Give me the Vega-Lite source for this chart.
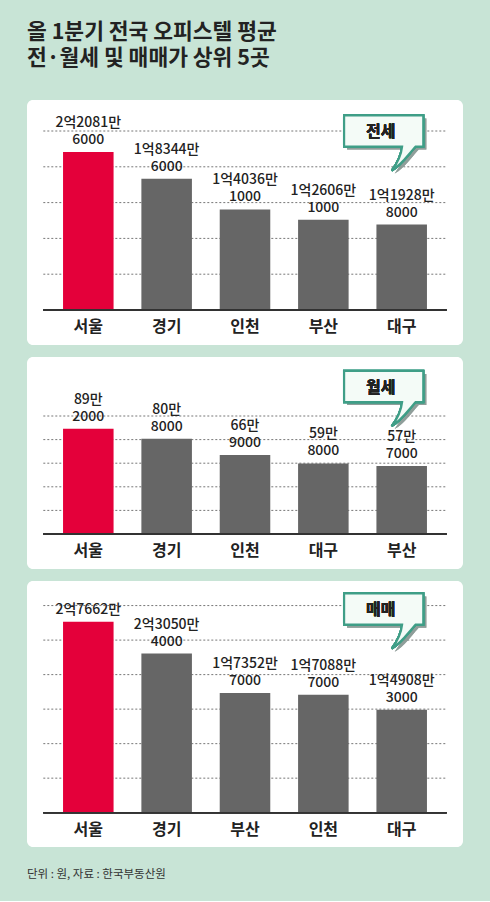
{
  "$schema": "https://vega.github.io/schema/vega-lite/v6.json",
  "background": "#c8e4d6",
  "padding": {"left": 27, "right": 27, "top": 21, "bottom": 20},
  "title": {
    "text": ["올 1분기 전국 오피스텔 평균", "전·월세 및 매매가 상위 5곳"],
    "anchor": "start",
    "font": "Noto Sans CJK KR",
    "fontSize": 21.5,
    "fontWeight": "bold",
    "color": "#222222",
    "lineHeight": 26,
    "baseline": "top",
    "offset": 31
  },
  "spacing": 12,
  "vconcat": [
    {
      "width": 436,
      "height": 245,
      "view": {"fill": "white", "stroke": null, "cornerRadius": 6},
      "data": {
        "values": [
          {"region": "서울", "value": 220816000, "line1": "2억2081만", "line2": "6000"},
          {"region": "경기", "value": 183446000, "line1": "1억8344만", "line2": "6000"},
          {"region": "인천", "value": 140361000, "line1": "1억4036만", "line2": "1000"},
          {"region": "부산", "value": 126061000, "line1": "1억2606만", "line2": "1000"},
          {"region": "대구", "value": 119288000, "line1": "1억1928만", "line2": "8000"}
        ]
      },
      "encoding": {
        "x": {
          "field": "region",
          "type": "nominal",
          "scale": {"domain": ["서울", "경기", "인천", "부산", "대구"], "paddingInner": 0.355, "paddingOuter": 0.46},
          "axis": null
        }
      },
      "layer": [
        {
          "data": {"values": [{"v": 50000000}, {"v": 100000000}, {"v": 150000000}, {"v": 200000000}, {"v": 250000000}]},
          "mark": {"type": "rule", "color": "#777777", "strokeDash": [2, 2], "strokeWidth": 1, "xOffset": -45, "x2Offset": 45},
          "encoding": {
            "x": {"datum": "서울", "type": "nominal"},
            "x2": {"datum": "대구"},
            "y": {"field": "v", "type": "quantitative", "scale": {"domain": [-48900000, 293300000], "nice": false, "zero": false}, "axis": null}
          }
        },
        {
          "mark": {"type": "bar"},
          "encoding": {
            "y": {"field": "value", "type": "quantitative", "scale": {"domain": [-48900000, 293300000], "nice": false, "zero": false}, "axis": null},
            "color": {"condition": {"test": "datum.region === '서울'", "value": "#e4003a"}, "value": "#666666"}
          }
        },
        {
          "mark": {"type": "rule", "color": "#333333", "strokeWidth": 1.5, "xOffset": -45, "x2Offset": 45},
          "encoding": {
            "x": {"datum": "서울", "type": "nominal"},
            "x2": {"datum": "대구"},
            "y": {"datum": 0, "type": "quantitative"}
          }
        },
        {
          "mark": {"type": "text", "baseline": "bottom", "dy": -22, "fontSize": 14, "fontWeight": 500, "font": "Noto Sans CJK KR", "color": "#222222"},
          "encoding": {
            "y": {"field": "value", "type": "quantitative"},
            "text": {"field": "line1"}
          }
        },
        {
          "mark": {"type": "text", "baseline": "bottom", "dy": -5, "fontSize": 14, "fontWeight": 500, "font": "Noto Sans CJK KR", "color": "#222222"},
          "encoding": {
            "y": {"field": "value", "type": "quantitative"},
            "text": {"field": "line2"}
          }
        },
        {
          "mark": {"type": "text", "baseline": "middle", "dy": 17, "fontSize": 16, "fontWeight": "bold", "font": "Noto Sans CJK KR", "color": "#222222"},
          "encoding": {
            "y": {"datum": 0, "type": "quantitative"},
            "text": {"field": "region"}
          }
        },
        {
          "mark": {"type": "point", "shape": "M-0.99,-0.39 L0.99,-0.39 L0.99,0.39 L0.8,0.39 C0.62,0.58 0.45,0.85 0.2,0.99 C0.36,0.78 0.44,0.58 0.46,0.39 L-0.99,0.39 Z", "size": 6400, "filled": true, "fill": "#8a9a94", "opacity": 0.45, "strokeWidth": 0, "xOffset": -15, "yOffset": 3},
          "encoding": {
            "x": {"datum": "대구", "type": "nominal"},
            "y": {"datum": 250000000, "type": "quantitative"}
          }
        },
        {
          "mark": {"type": "point", "shape": "M-0.99,-0.39 L0.99,-0.39 L0.99,0.39 L0.8,0.39 C0.62,0.58 0.45,0.85 0.2,0.99 C0.36,0.78 0.44,0.58 0.46,0.39 L-0.99,0.39 Z", "size": 6400, "filled": true, "fill": "#f4fbf7", "stroke": "#3f9e87", "strokeWidth": 2.2, "opacity": 1, "xOffset": -18},
          "encoding": {
            "x": {"datum": "대구", "type": "nominal"},
            "y": {"datum": 250000000, "type": "quantitative"}
          }
        },
        {
          "mark": {"type": "text", "baseline": "middle", "fontSize": 16, "fontWeight": "bold", "font": "Noto Sans CJK KR", "color": "#222222", "xOffset": -21, "dy": 1},
          "encoding": {
            "x": {"datum": "대구", "type": "nominal"},
            "y": {"datum": 250000000, "type": "quantitative"},
            "text": {"value": "전세"}
          }
        }
      ]
    },
    {
      "width": 436,
      "height": 212,
      "view": {"fill": "white", "stroke": null, "cornerRadius": 6},
      "data": {
        "values": [
          {"region": "서울", "value": 892000, "line1": "89만", "line2": "2000"},
          {"region": "경기", "value": 808000, "line1": "80만", "line2": "8000"},
          {"region": "인천", "value": 669000, "line1": "66만", "line2": "9000"},
          {"region": "대구", "value": 598000, "line1": "59만", "line2": "8000"},
          {"region": "부산", "value": 577000, "line1": "57만", "line2": "7000"}
        ]
      },
      "encoding": {
        "x": {
          "field": "region",
          "type": "nominal",
          "scale": {"domain": ["서울", "경기", "인천", "대구", "부산"], "paddingInner": 0.355, "paddingOuter": 0.46},
          "axis": null
        }
      },
      "layer": [
        {
          "data": {"values": [{"v": 200000}, {"v": 400000}, {"v": 600000}, {"v": 800000}, {"v": 1000000}]},
          "mark": {"type": "rule", "color": "#777777", "strokeDash": [2, 2], "strokeWidth": 1, "xOffset": -45, "x2Offset": 45},
          "encoding": {
            "x": {"datum": "서울", "type": "nominal"},
            "x2": {"datum": "부산"},
            "y": {"field": "v", "type": "quantitative", "scale": {"domain": [-296600, 1500000], "nice": false, "zero": false}, "axis": null}
          }
        },
        {
          "mark": {"type": "bar"},
          "encoding": {
            "y": {"field": "value", "type": "quantitative", "scale": {"domain": [-296600, 1500000], "nice": false, "zero": false}, "axis": null},
            "color": {"condition": {"test": "datum.region === '서울'", "value": "#e4003a"}, "value": "#666666"}
          }
        },
        {
          "mark": {"type": "rule", "color": "#333333", "strokeWidth": 1.5, "xOffset": -45, "x2Offset": 45},
          "encoding": {
            "x": {"datum": "서울", "type": "nominal"},
            "x2": {"datum": "부산"},
            "y": {"datum": 0, "type": "quantitative"}
          }
        },
        {
          "mark": {"type": "text", "baseline": "bottom", "dy": -22, "fontSize": 14, "fontWeight": 500, "font": "Noto Sans CJK KR", "color": "#222222"},
          "encoding": {
            "y": {"field": "value", "type": "quantitative"},
            "text": {"field": "line1"}
          }
        },
        {
          "mark": {"type": "text", "baseline": "bottom", "dy": -5, "fontSize": 14, "fontWeight": 500, "font": "Noto Sans CJK KR", "color": "#222222"},
          "encoding": {
            "y": {"field": "value", "type": "quantitative"},
            "text": {"field": "line2"}
          }
        },
        {
          "mark": {"type": "text", "baseline": "middle", "dy": 17, "fontSize": 16, "fontWeight": "bold", "font": "Noto Sans CJK KR", "color": "#222222"},
          "encoding": {
            "y": {"datum": 0, "type": "quantitative"},
            "text": {"field": "region"}
          }
        },
        {
          "mark": {"type": "point", "shape": "M-0.99,-0.39 L0.99,-0.39 L0.99,0.39 L0.8,0.39 C0.62,0.58 0.45,0.85 0.2,0.99 C0.36,0.78 0.44,0.58 0.46,0.39 L-0.99,0.39 Z", "size": 6400, "filled": true, "fill": "#8a9a94", "opacity": 0.45, "strokeWidth": 0, "xOffset": -15, "yOffset": 3},
          "encoding": {
            "x": {"datum": "부산", "type": "nominal"},
            "y": {"datum": 1250000, "type": "quantitative"}
          }
        },
        {
          "mark": {"type": "point", "shape": "M-0.99,-0.39 L0.99,-0.39 L0.99,0.39 L0.8,0.39 C0.62,0.58 0.45,0.85 0.2,0.99 C0.36,0.78 0.44,0.58 0.46,0.39 L-0.99,0.39 Z", "size": 6400, "filled": true, "fill": "#f4fbf7", "stroke": "#3f9e87", "strokeWidth": 2.2, "opacity": 1, "xOffset": -18},
          "encoding": {
            "x": {"datum": "부산", "type": "nominal"},
            "y": {"datum": 1250000, "type": "quantitative"}
          }
        },
        {
          "mark": {"type": "text", "baseline": "middle", "fontSize": 16, "fontWeight": "bold", "font": "Noto Sans CJK KR", "color": "#222222", "xOffset": -21, "dy": 1},
          "encoding": {
            "x": {"datum": "부산", "type": "nominal"},
            "y": {"datum": 1250000, "type": "quantitative"},
            "text": {"value": "월세"}
          }
        }
      ]
    },
    {
      "width": 436,
      "height": 266,
      "view": {"fill": "white", "stroke": null, "cornerRadius": 6},
      "title": {
        "text": "단위 : 원, 자료 : 한국부동산원",
        "orient": "bottom",
        "anchor": "start",
        "font": "Noto Sans CJK KR",
        "fontSize": 11.5,
        "fontWeight": "normal",
        "color": "#333333",
        "baseline": "top",
        "offset": 22
      },
      "data": {
        "values": [
          {"region": "서울", "value": 276620000, "line1": "", "line2": "2억7662만"},
          {"region": "경기", "value": 230504000, "line1": "2억3050만", "line2": "4000"},
          {"region": "부산", "value": 173527000, "line1": "1억7352만", "line2": "7000"},
          {"region": "인천", "value": 170887000, "line1": "1억7088만", "line2": "7000"},
          {"region": "대구", "value": 149083000, "line1": "1억4908만", "line2": "3000"}
        ]
      },
      "encoding": {
        "x": {
          "field": "region",
          "type": "nominal",
          "scale": {"domain": ["서울", "경기", "부산", "인천", "대구"], "paddingInner": 0.355, "paddingOuter": 0.46},
          "axis": null
        }
      },
      "layer": [
        {
          "data": {"values": [{"v": 50000000}, {"v": 100000000}, {"v": 150000000}, {"v": 200000000}, {"v": 250000000}, {"v": 300000000}]},
          "mark": {"type": "rule", "color": "#777777", "strokeDash": [2, 2], "strokeWidth": 1, "xOffset": -45, "x2Offset": 45},
          "encoding": {
            "x": {"datum": "서울", "type": "nominal"},
            "x2": {"datum": "대구"},
            "y": {"field": "v", "type": "quantitative", "scale": {"domain": [-49700000, 335600000], "nice": false, "zero": false}, "axis": null}
          }
        },
        {
          "mark": {"type": "bar"},
          "encoding": {
            "y": {"field": "value", "type": "quantitative", "scale": {"domain": [-49700000, 335600000], "nice": false, "zero": false}, "axis": null},
            "color": {"condition": {"test": "datum.region === '서울'", "value": "#e4003a"}, "value": "#666666"}
          }
        },
        {
          "mark": {"type": "rule", "color": "#333333", "strokeWidth": 1.5, "xOffset": -45, "x2Offset": 45},
          "encoding": {
            "x": {"datum": "서울", "type": "nominal"},
            "x2": {"datum": "대구"},
            "y": {"datum": 0, "type": "quantitative"}
          }
        },
        {
          "mark": {"type": "text", "baseline": "bottom", "dy": -22, "fontSize": 14, "fontWeight": 500, "font": "Noto Sans CJK KR", "color": "#222222"},
          "encoding": {
            "y": {"field": "value", "type": "quantitative"},
            "text": {"field": "line1"}
          }
        },
        {
          "mark": {"type": "text", "baseline": "bottom", "dy": -5, "fontSize": 14, "fontWeight": 500, "font": "Noto Sans CJK KR", "color": "#222222"},
          "encoding": {
            "y": {"field": "value", "type": "quantitative"},
            "text": {"field": "line2"}
          }
        },
        {
          "mark": {"type": "text", "baseline": "middle", "dy": 17, "fontSize": 16, "fontWeight": "bold", "font": "Noto Sans CJK KR", "color": "#222222"},
          "encoding": {
            "y": {"datum": 0, "type": "quantitative"},
            "text": {"field": "region"}
          }
        },
        {
          "mark": {"type": "point", "shape": "M-0.99,-0.39 L0.99,-0.39 L0.99,0.39 L0.8,0.39 C0.62,0.58 0.45,0.85 0.2,0.99 C0.36,0.78 0.44,0.58 0.46,0.39 L-0.99,0.39 Z", "size": 6400, "filled": true, "fill": "#8a9a94", "opacity": 0.45, "strokeWidth": 0, "xOffset": -15, "yOffset": 3},
          "encoding": {
            "x": {"datum": "대구", "type": "nominal"},
            "y": {"datum": 295000000, "type": "quantitative"}
          }
        },
        {
          "mark": {"type": "point", "shape": "M-0.99,-0.39 L0.99,-0.39 L0.99,0.39 L0.8,0.39 C0.62,0.58 0.45,0.85 0.2,0.99 C0.36,0.78 0.44,0.58 0.46,0.39 L-0.99,0.39 Z", "size": 6400, "filled": true, "fill": "#f4fbf7", "stroke": "#3f9e87", "strokeWidth": 2.2, "opacity": 1, "xOffset": -18},
          "encoding": {
            "x": {"datum": "대구", "type": "nominal"},
            "y": {"datum": 295000000, "type": "quantitative"}
          }
        },
        {
          "mark": {"type": "text", "baseline": "middle", "fontSize": 16, "fontWeight": "bold", "font": "Noto Sans CJK KR", "color": "#222222", "xOffset": -21, "dy": 1},
          "encoding": {
            "x": {"datum": "대구", "type": "nominal"},
            "y": {"datum": 295000000, "type": "quantitative"},
            "text": {"value": "매매"}
          }
        }
      ]
    }
  ],
  "config": {"view": {"stroke": null}}
}
